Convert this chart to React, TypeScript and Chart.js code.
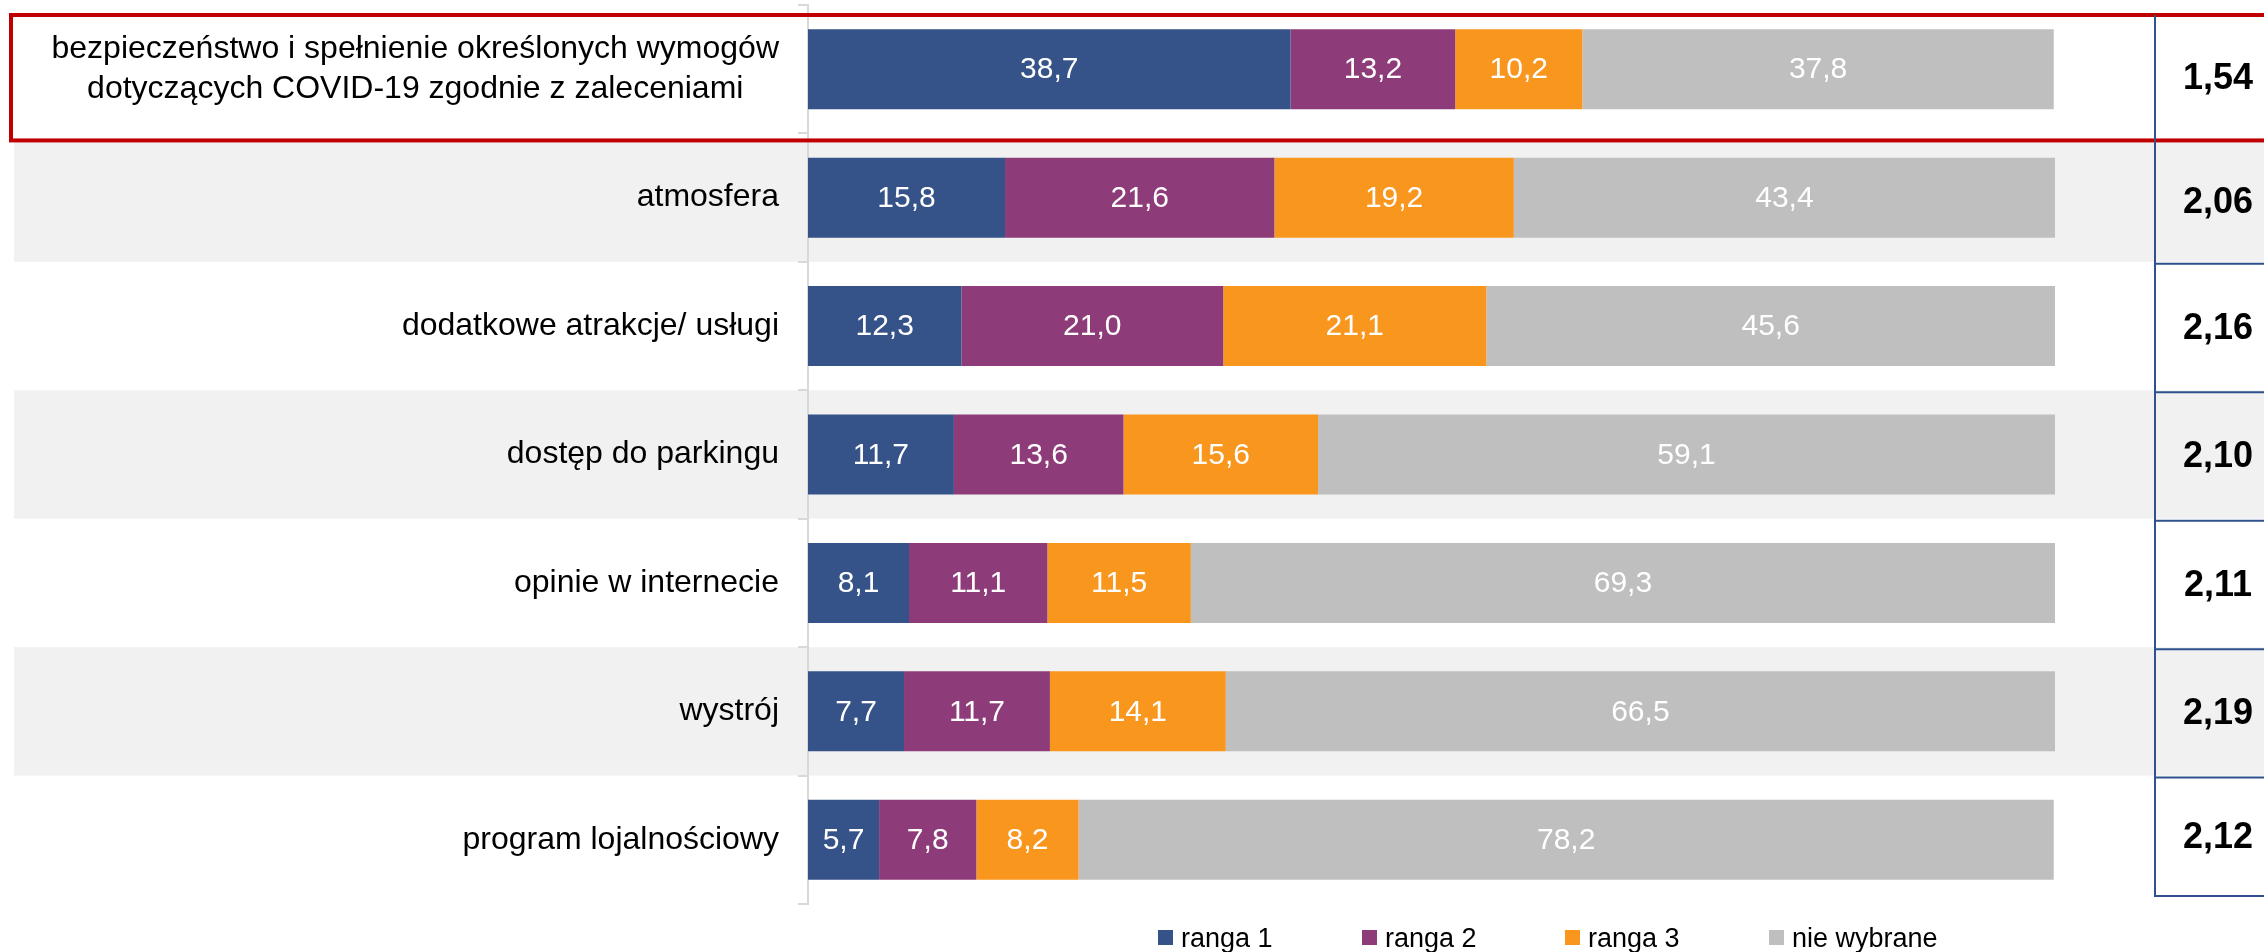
import React, { useEffect, useRef } from "react";
import { Chart, registerables } from "chart.js";

Chart.register(...registerables);

const categories: (string | string[])[] = [
  ["bezpieczeństwo i spełnienie określonych wymogów", "dotyczących COVID-19 zgodnie z zaleceniami"],
  "atmosfera",
  "dodatkowe atrakcje/ usługi",
  "dostęp do parkingu",
  "opinie w internecie",
  "wystrój",
  "program lojalnościowy",
];
const ranga1 = [38.7, 15.8, 12.3, 11.7, 8.1, 7.7, 5.7];
const ranga2 = [13.2, 21.6, 21.0, 13.6, 11.1, 11.7, 7.8];
const ranga3 = [10.2, 19.2, 21.1, 15.6, 11.5, 14.1, 8.2];
const nieWybrane = [37.8, 43.4, 45.6, 59.1, 69.3, 66.5, 78.2];
const averages = ["1,54", "2,06", "2,16", "2,10", "2,11", "2,19", "2,12"];
const seriesNames = ["ranga 1", "ranga 2", "ranga 3", "nie wybrane"];
const seriesColors = ["#355289", "#8E3C79", "#F8961E", "#BFBFBF"];

const FONT = "'Liberation Sans', Arial, sans-serif";
const fmt = (v: number) => v.toFixed(1).replace(".", ",");

const decorPlugin = {
  id: "decor",
  beforeDraw(chart: any) {
    const ctx = chart.ctx;
    const y = chart.scales.y;
    const n = categories.length;
    const rowH = y.getPixelForValue(1) - y.getPixelForValue(0);
    const bound = (i: number) => y.getPixelForValue(i) - rowH / 2;
    ctx.save();
    ctx.fillStyle = "#FFFFFF";
    ctx.fillRect(0, 0, chart.width, chart.height);
    ctx.fillStyle = "#F1F1F1";
    for (let i = 1; i < n; i += 2) {
      ctx.fillRect(14, bound(i), chart.width - 14, rowH);
    }
    ctx.fillStyle = "#FFFFFF";
    ctx.fillRect(11, y.top + 10, chart.width, bound(1) + 7 - (y.top + 10));
    ctx.restore();
  },
  afterDraw(chart: any) {
    const ctx = chart.ctx;
    const y = chart.scales.y;
    const n = categories.length;
    const rowH = y.getPixelForValue(1) - y.getPixelForValue(0);
    const bound = (i: number) => y.getPixelForValue(i) - rowH / 2;
    ctx.save();

    // bar value labels
    ctx.fillStyle = "#FFFFFF";
    ctx.font = `30px ${FONT}`;
    ctx.textAlign = "center";
    ctx.textBaseline = "middle";
    chart.data.datasets.forEach((ds: any, di: number) => {
      const meta = chart.getDatasetMeta(di);
      meta.data.forEach((el: any, i: number) => {
        const p = el.getProps(["x", "base", "y"], true);
        ctx.fillText(fmt(ds.data[i]), (p.x + p.base) / 2, p.y + 1);
      });
    });

    // category labels
    ctx.fillStyle = "#000000";
    ctx.font = `32px ${FONT}`;
    const labelRight = chart.chartArea.left - 29;
    categories.forEach((c, i) => {
      const cy = y.getPixelForValue(i);
      if (Array.isArray(c)) {
        const widths = c.map((t) => ctx.measureText(t).width);
        const maxW = Math.max(...widths);
        const cx = labelRight - maxW / 2;
        ctx.textAlign = "center";
        const lh = 40;
        c.forEach((t, k) => {
          ctx.fillText(t, cx, cy + (k - (c.length - 1) / 2) * lh);
        });
      } else {
        ctx.textAlign = "right";
        ctx.fillText(c, labelRight, cy);
      }
    });

    // red highlight box
    const boxTop = y.top + 10;
    const boxBottom = bound(1) + 7;
    ctx.strokeStyle = "#C00000";
    ctx.lineWidth = 4;
    ctx.strokeRect(11, boxTop, chart.width + 20, boxBottom - boxTop);

    // right table
    const tableX = chart.chartArea.right + 100;
    const tableBottom = y.bottom - 8;
    ctx.strokeStyle = "#2F528F";
    ctx.lineWidth = 2;
    ctx.beginPath();
    ctx.moveTo(tableX, boxTop);
    ctx.lineTo(tableX, tableBottom);
    for (let i = 2; i < n; i++) {
      ctx.moveTo(tableX, bound(i) + 2);
      ctx.lineTo(chart.width, bound(i) + 2);
    }
    ctx.moveTo(tableX - 1, tableBottom);
    ctx.lineTo(chart.width, tableBottom);
    ctx.stroke();

    ctx.fillStyle = "#000000";
    ctx.font = `bold 36px ${FONT}`;
    ctx.textAlign = "center";
    ctx.textBaseline = "middle";
    const cellTop = (i: number) => (i === 0 ? boxTop : i === 1 ? boxBottom : bound(i) + 2);
    averages.forEach((a, i) => {
      const top = cellTop(i);
      const bot = i === n - 1 ? tableBottom : cellTop(i + 1);
      ctx.fillText(a, tableX + 63, (top + bot) / 2 + 1);
    });

    // legend
    const legendX = [1158, 1362, 1565, 1769];
    ctx.font = `27px ${FONT}`;
    ctx.textAlign = "left";
    ctx.textBaseline = "alphabetic";
    seriesNames.forEach((s, i) => {
      ctx.fillStyle = seriesColors[i];
      ctx.fillRect(legendX[i], 930, 15, 15);
      ctx.fillStyle = "#000000";
      ctx.fillText(s, legendX[i] + 23, 947);
    });

    ctx.restore();
  },
};

export default function App() {
  const ref = useRef<HTMLCanvasElement | null>(null);
  useEffect(() => {
    document.body.style.margin = "0";
    const canvas = ref.current;
    if (!canvas) return;
    const series = [ranga1, ranga2, ranga3, nieWybrane];
    const chart = new Chart(canvas, {
      type: "bar",
      data: {
        labels: categories.map((c) => (Array.isArray(c) ? c.join(" ") : c)),
        datasets: series.map((d, i) => ({
          label: seriesNames[i],
          data: d,
          backgroundColor: seriesColors[i],
          borderWidth: 0,
          categoryPercentage: 1,
          barPercentage: 0.623,
        })),
      },
      options: {
        indexAxis: "y",
        responsive: false,
        animation: false,
        devicePixelRatio: 1,
        layout: { padding: { left: 798, right: 209, top: 5, bottom: 48 } },
        plugins: { legend: { display: false }, tooltip: { enabled: false } },
        scales: {
          x: { stacked: true, min: 0, max: 100, display: false },
          y: {
            stacked: true,
            ticks: { display: false },
            grid: {
              drawOnChartArea: false,
              drawTicks: true,
              tickLength: 10,
              color: "#D9D9D9",
              lineWidth: 2,
              offset: true,
            },
            border: { display: true, color: "#D9D9D9", width: 2 },
          },
        },
      },
      plugins: [decorPlugin],
    } as any);
    return () => chart.destroy();
  }, []);
  return (
    <div style={{ position: "fixed", left: 0, top: 0, width: 2264, height: 952 }}>
      <canvas ref={ref} width={2264} height={952} style={{ width: 2264, height: 952 }} />
    </div>
  );
}
